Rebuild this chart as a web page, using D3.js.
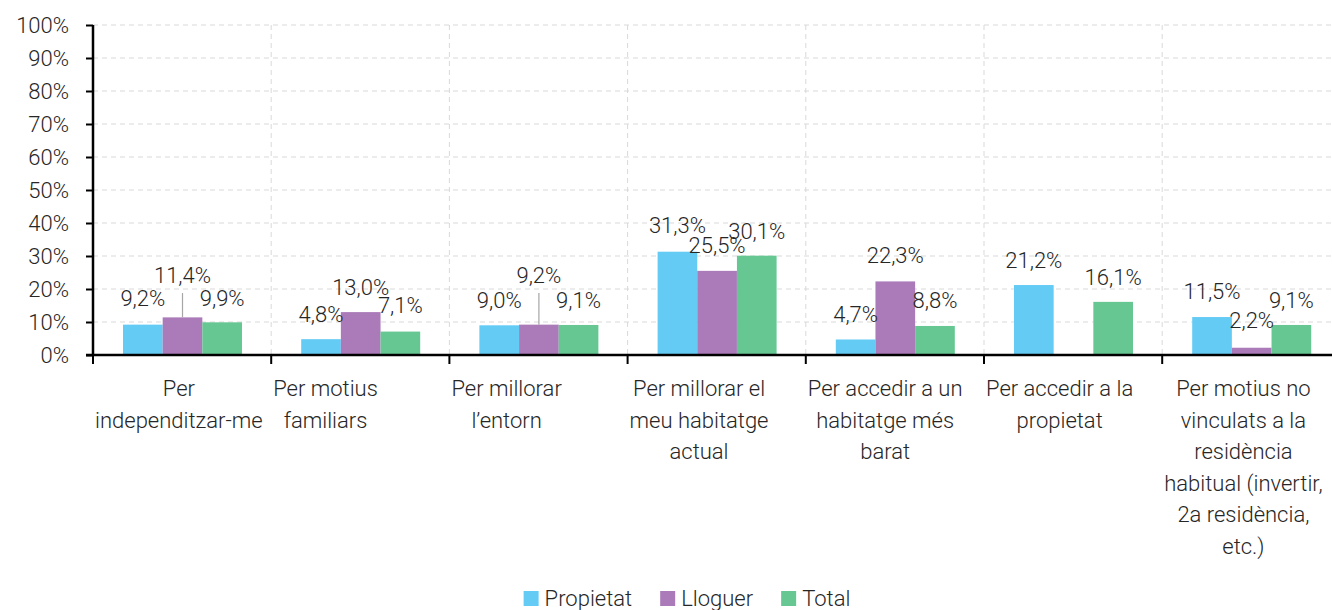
<!DOCTYPE html>
<html>
<head>
<meta charset="utf-8">
<script src="https://cdn.jsdelivr.net/npm/d3@7"></script>
<style>
    html, body { margin: 0; padding: 0; background: #fff; }
    svg text { font-family: Roboto, "Noto Sans", sans-serif; font-weight: 300; fill: #262626; }
</style>
</head>
<body>
<svg id="chart" width="1332" height="610"></svg>
<script>
// Data
const categories = ['indep', 'familiars', 'entorn', 'actual', 'barat', 'propietat', 'altres'];
const categoryLines = [
    ['Per', 'independitzar-me'],
    ['Per motius', 'familiars'],
    ['Per millorar', 'l\u2019entorn'],
    ['Per millorar el', 'meu habitatge', 'actual'],
    ['Per accedir a un', 'habitatge més', 'barat'],
    ['Per accedir a la', 'propietat'],
    ['Per motius no', 'vinculats a la', 'residència', 'habitual (invertir,', '2a residència,', 'etc.)']
];
const seriesNames = ['Propietat', 'Lloguer', 'Total'];
const propietat = [9.2, 4.8, 9.0, 31.3, 4.7, 21.2, 11.5];
const lloguer = [11.4, 13.0, 9.2, 25.5, 22.3, null, 2.2];
const total = [9.9, 7.1, 9.1, 30.1, 8.8, 16.1, 9.1];
const yTicks = [0, 10, 20, 30, 40, 50, 60, 70, 80, 90, 100];

// Where the value labels sit (baseline, in % units) as placed in the source
const labelAtPropietat = [14.8, 10.0, 14.2, 37.0, 10.0, 26.4, 17.0];
const labelAtLloguer = [21.8, 18.2, 21.8, 30.9, 27.9, null, 8.2];
const labelAtTotal = [15.0, 12.7, 14.2, 35.2, 14.2, 21.2, 14.2];

const colors = ['#64cbf5', '#ab7ab9', '#66c792'];

const svg = d3.select('#chart');
const plotLeft = 93, plotTop = 25, plotBottom = 355;
const catWidth = 178.2;

const x = d3.scaleBand()
    .domain(categories)
    .range([plotLeft, plotLeft + catWidth * categories.length]);

const xs = d3.scaleBand()
    .domain(seriesNames)
    .range([30, 149]);

const y = d3.scaleLinear().domain([0, 100]).range([plotBottom, plotTop]);

const fmt = v => d3.format('.1f')(v).replace('.', ',') + '%';

// Horizontal gridlines
svg.append('g')
    .selectAll('line')
    .data(yTicks.filter(d => d > 0))
    .join('line')
    .attr('x1', plotLeft).attr('x2', 1332)
    .attr('y1', d => y(d)).attr('y2', d => y(d))
    .attr('stroke', '#d9d9d9')
    .attr('stroke-dasharray', '5,4');

// Vertical gridlines at category boundaries
svg.append('g')
    .selectAll('line')
    .data(categories.slice(1))
    .join('line')
    .attr('x1', d => x(d)).attr('x2', d => x(d))
    .attr('y1', plotTop).attr('y2', plotBottom)
    .attr('stroke', '#d9d9d9')
    .attr('stroke-dasharray', '5,4');

// Bars
const seriesData = [propietat, lloguer, total];
const labelData = [labelAtPropietat, labelAtLloguer, labelAtTotal];
const rows = [];
seriesData.forEach((vals, s) => {
    vals.forEach((v, i) => {
        if (v == null) return;
        rows.push({ s, cat: categories[i], v, at: labelData[s][i] });
    });
});

svg.append('g')
    .selectAll('rect')
    .data(rows)
    .join('rect')
    .attr('x', d => x(d.cat) + xs(seriesNames[d.s]))
    .attr('y', d => y(d.v))
    .attr('width', xs.bandwidth())
    .attr('height', d => y(0) - y(d.v))
    .attr('fill', d => colors[d.s]);

// Leader lines for labels that were moved far from their bar
svg.append('g')
    .selectAll('line')
    .data(rows.filter(d => y(d.v) - y(d.at) > 25))
    .join('line')
    .attr('x1', d => x(d.cat) + xs(seriesNames[d.s]) + xs.bandwidth() / 2)
    .attr('x2', d => x(d.cat) + xs(seriesNames[d.s]) + xs.bandwidth() / 2)
    .attr('y1', d => y(d.at) + 10)
    .attr('y2', d => y(d.v))
    .attr('stroke', '#a6a6a6')
    .attr('stroke-width', 1.2);

// Value labels
svg.append('g')
    .selectAll('text')
    .data(rows)
    .join('text')
    .attr('x', d => x(d.cat) + xs(seriesNames[d.s]) + xs.bandwidth() / 2)
    .attr('y', d => y(d.at))
    .attr('text-anchor', 'middle')
    .attr('font-size', '22px')
    .text(d => fmt(d.v));

// Y axis
const yAxis = svg.append('g')
    .attr('transform', `translate(${plotLeft},0)`)
    .call(d3.axisLeft(y).tickValues(yTicks).tickFormat(d => d + '%').tickSize(7).tickPadding(17));
yAxis.select('.domain').attr('stroke', '#000').attr('stroke-width', 2.5).attr('d', `M0,${plotTop}V${plotBottom}`);
yAxis.selectAll('.tick line').attr('stroke', '#000').attr('stroke-width', 2);
yAxis.selectAll('.tick text')
    .attr('font-size', '22px')
    .attr('fill', '#262626')
    .attr('font-family', 'Roboto, "Noto Sans", sans-serif');

// X axis line and ticks at boundaries
svg.append('line')
    .attr('x1', plotLeft - 7).attr('x2', 1332)
    .attr('y1', plotBottom).attr('y2', plotBottom)
    .attr('stroke', '#000').attr('stroke-width', 2.5);

svg.append('g')
    .selectAll('line')
    .data(categories)
    .join('line')
    .attr('x1', d => x(d)).attr('x2', d => x(d))
    .attr('y1', plotBottom).attr('y2', plotBottom + 9)
    .attr('stroke', '#000').attr('stroke-width', 2);

// Category labels: the wrapped block starts at the category's left edge,
// lines are centred on the widest one
const catLabels = svg.append('g')
    .selectAll('text')
    .data(categories)
    .join('text')
    .attr('text-anchor', 'middle')
    .attr('font-size', '22px')
    .attr('y', 396);

catLabels.each(function (d, i) {
    const t = d3.select(this);
    const spans = t.selectAll('tspan')
        .data(categoryLines[i])
        .join('tspan')
        .attr('dy', (l, j) => j === 0 ? 0 : 31.5)
        .text(l => l);
    const widest = d3.max(spans.nodes(), n => n.getComputedTextLength());
    const cx = Math.min(x(d) + 2 + widest / 2, x(d) + x.bandwidth() / 2);
    spans.attr('x', cx);
});

// Legend
const legend = svg.append('g');
const items = legend.selectAll('g')
    .data(seriesNames)
    .join('g');
items.append('rect')
    .attr('width', 15).attr('height', 15)
    .attr('y', -15)
    .attr('fill', (d, i) => colors[i]);
items.append('text')
    .attr('x', 21)
    .attr('y', 0)
    .attr('font-size', '22px')
    .text(d => d);

let offset = 0;
items.each(function () {
    const g = d3.select(this);
    g.attr('transform', `translate(${offset},606)`);
    offset += 21 + g.select('text').node().getComputedTextLength() + 28;
});
const legendWidth = offset - 28;
legend.attr('transform', `translate(${687 - legendWidth / 2},0)`);
</script>
</body>
</html>
